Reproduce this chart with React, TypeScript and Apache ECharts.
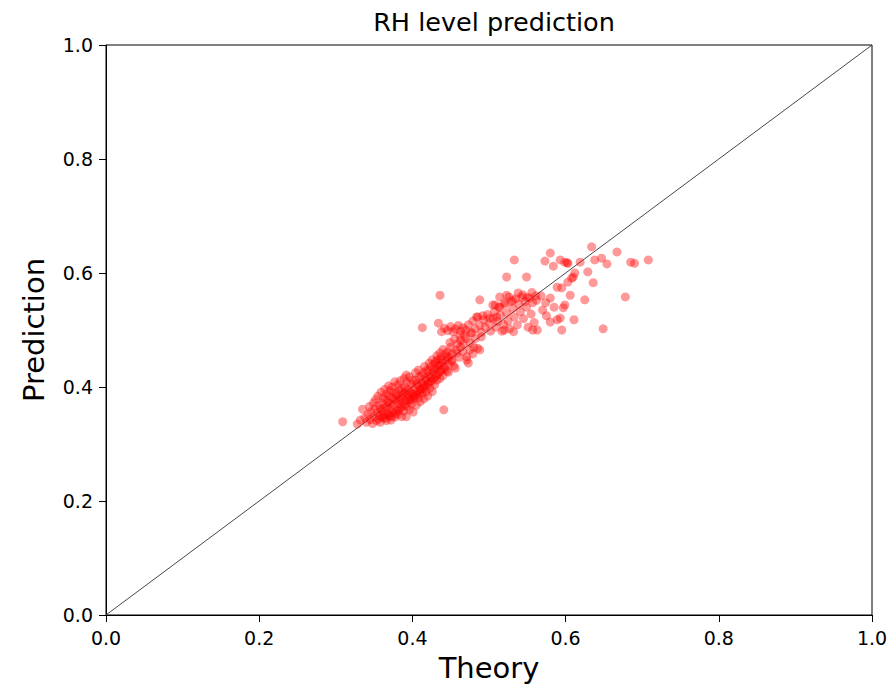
import React, { useEffect, useRef } from "react";
import * as echarts from "echarts";

// Theory vs. predicted RH level, [theory, prediction]
const lowCluster: [number, number][] = [
  [0.309, 0.339], [0.328, 0.335], [0.332, 0.342], [0.335, 0.361], [0.338, 0.346], [0.340, 0.338],
  [0.342, 0.352], [0.345, 0.343], [0.346, 0.357], [0.348, 0.336], [0.350, 0.348], [0.351, 0.362],
  [0.353, 0.341], [0.354, 0.355], [0.356, 0.368], [0.357, 0.349], [0.358, 0.338], [0.360, 0.358],
  [0.361, 0.372], [0.362, 0.346], [0.363, 0.363], [0.364, 0.352], [0.365, 0.378], [0.366, 0.341],
  [0.367, 0.366], [0.368, 0.356], [0.369, 0.385], [0.370, 0.349], [0.371, 0.371], [0.372, 0.342],
  [0.372, 0.362], [0.373, 0.381], [0.374, 0.355], [0.375, 0.368], [0.376, 0.391], [0.377, 0.347],
  [0.378, 0.376], [0.379, 0.360], [0.380, 0.385], [0.381, 0.352], [0.382, 0.370], [0.383, 0.395],
  [0.384, 0.362], [0.385, 0.381], [0.386, 0.348], [0.387, 0.372], [0.388, 0.389], [0.389, 0.358],
  [0.390, 0.400], [0.391, 0.377], [0.392, 0.421], [0.392, 0.348], [0.393, 0.366], [0.394, 0.386],
  [0.395, 0.395], [0.396, 0.360], [0.397, 0.378], [0.398, 0.405], [0.399, 0.370], [0.400, 0.388],
  [0.401, 0.356], [0.402, 0.398], [0.403, 0.380], [0.404, 0.412], [0.405, 0.368], [0.406, 0.392],
  [0.407, 0.403], [0.408, 0.381], [0.409, 0.418], [0.410, 0.374], [0.411, 0.396], [0.412, 0.408],
  [0.413, 0.388], [0.414, 0.425], [0.415, 0.379], [0.416, 0.400], [0.417, 0.415], [0.418, 0.392],
  [0.419, 0.430], [0.420, 0.384], [0.421, 0.406], [0.422, 0.420], [0.423, 0.398], [0.424, 0.435],
  [0.425, 0.410], [0.426, 0.392], [0.427, 0.425], [0.428, 0.440], [0.429, 0.404], [0.430, 0.418],
  [0.431, 0.432], [0.432, 0.412], [0.433, 0.447], [0.434, 0.424], [0.435, 0.438], [0.436, 0.415],
  [0.437, 0.452], [0.438, 0.430], [0.439, 0.443], [0.440, 0.420], [0.441, 0.360], [0.442, 0.436],
  [0.443, 0.458], [0.444, 0.447], [0.445, 0.428], [0.446, 0.462], [0.447, 0.440], [0.448, 0.453],
  [0.450, 0.470], [0.451, 0.445], [0.452, 0.458], [0.454, 0.437], [0.456, 0.433], [0.457, 0.465],
  [0.459, 0.476], [0.461, 0.452], [0.463, 0.482], [0.466, 0.462], [0.468, 0.490], [0.471, 0.453],
  [0.473, 0.442], [0.475, 0.478], [0.478, 0.495], [0.480, 0.470], [0.482, 0.485], [0.485, 0.468],
  [0.488, 0.465], [0.490, 0.488], [0.445, 0.453], [0.458, 0.460], [0.471, 0.447], [0.475, 0.465],
];

// the thick core of the cloud around 0.35–0.43
const denseCore: [number, number][] = [
  [0.344, 0.366], [0.349, 0.372], [0.352, 0.378], [0.355, 0.384], [0.358, 0.362], [0.359, 0.391],
  [0.362, 0.381], [0.364, 0.396], [0.366, 0.388], [0.368, 0.373], [0.369, 0.402], [0.371, 0.394],
  [0.374, 0.400], [0.376, 0.379], [0.377, 0.409], [0.379, 0.389], [0.381, 0.404], [0.383, 0.377],
  [0.384, 0.411], [0.386, 0.398], [0.387, 0.385], [0.389, 0.415], [0.391, 0.392], [0.393, 0.408],
  [0.395, 0.381], [0.396, 0.418], [0.398, 0.390], [0.400, 0.412], [0.402, 0.384], [0.404, 0.425],
  [0.406, 0.406], [0.408, 0.430], [0.410, 0.395], [0.412, 0.420], [0.414, 0.404], [0.416, 0.436],
  [0.418, 0.412], [0.420, 0.428], [0.422, 0.442], [0.424, 0.417], [0.426, 0.448], [0.428, 0.431],
  [0.430, 0.444], [0.432, 0.455], [0.434, 0.438], [0.436, 0.460], [0.438, 0.448], [0.440, 0.466],
  [0.356, 0.344], [0.361, 0.349], [0.365, 0.345], [0.369, 0.352], [0.373, 0.348], [0.378, 0.354],
  [0.382, 0.358], [0.386, 0.365], [0.390, 0.369], [0.394, 0.374], [0.398, 0.378], [0.402, 0.383],
  [0.406, 0.387], [0.410, 0.390], [0.414, 0.397], [0.418, 0.402], [0.422, 0.409], [0.427, 0.414],
  [0.432, 0.421], [0.437, 0.427], [0.442, 0.432], [0.447, 0.426], [0.452, 0.447], [0.463, 0.470],
  [0.455, 0.484], [0.462, 0.491], [0.470, 0.485], [0.449, 0.478], [0.466, 0.476], [0.479, 0.458],
];

const midBand: [number, number][] = [
  [0.413, 0.504], [0.434, 0.512], [0.436, 0.561], [0.438, 0.497], [0.442, 0.503], [0.446, 0.499],
  [0.450, 0.506], [0.453, 0.497], [0.456, 0.502], [0.460, 0.508], [0.463, 0.498], [0.466, 0.504],
  [0.470, 0.500], [0.473, 0.509], [0.476, 0.495], [0.479, 0.516], [0.482, 0.502], [0.485, 0.523],
  [0.488, 0.508], [0.490, 0.496], [0.493, 0.518], [0.495, 0.505], [0.498, 0.527], [0.500, 0.512],
  [0.502, 0.498], [0.505, 0.520], [0.507, 0.532], [0.509, 0.505], [0.511, 0.515], [0.513, 0.540],
  [0.515, 0.526], [0.517, 0.498], [0.519, 0.510], [0.521, 0.545], [0.523, 0.530], [0.525, 0.516],
  [0.527, 0.502], [0.529, 0.550], [0.531, 0.538], [0.533, 0.523], [0.535, 0.555], [0.537, 0.509],
  [0.539, 0.545], [0.541, 0.532], [0.543, 0.558], [0.545, 0.520], [0.547, 0.550], [0.549, 0.540],
  [0.551, 0.505], [0.553, 0.556], [0.555, 0.528], [0.557, 0.548], [0.559, 0.513], [0.561, 0.560],
  [0.563, 0.500], [0.488, 0.553], [0.484, 0.523], [0.492, 0.525], [0.501, 0.521], [0.508, 0.544],
  [0.514, 0.558], [0.523, 0.561], [0.505, 0.544], [0.514, 0.540], [0.510, 0.523], [0.520, 0.548],
  [0.526, 0.558], [0.531, 0.552], [0.538, 0.565], [0.544, 0.562], [0.550, 0.557], [0.556, 0.566],
  [0.562, 0.552], [0.568, 0.560], [0.574, 0.548], [0.580, 0.556], [0.589, 0.575], [0.595, 0.574],
  [0.585, 0.540], [0.570, 0.535], [0.575, 0.525], [0.580, 0.514], [0.589, 0.518], [0.593, 0.521],
  [0.611, 0.518], [0.595, 0.500], [0.557, 0.500], [0.532, 0.497], [0.520, 0.500], [0.599, 0.544],
  [0.597, 0.539], [0.606, 0.561], [0.625, 0.553],
];

const upperCluster: [number, number][] = [
  [0.634, 0.646], [0.580, 0.635], [0.667, 0.637], [0.708, 0.623], [0.685, 0.619], [0.690, 0.617],
  [0.533, 0.623], [0.573, 0.621], [0.584, 0.612], [0.599, 0.619], [0.603, 0.617], [0.619, 0.619],
  [0.638, 0.623], [0.647, 0.626], [0.654, 0.616], [0.523, 0.593], [0.549, 0.593], [0.612, 0.600],
  [0.608, 0.591], [0.603, 0.584], [0.629, 0.602], [0.636, 0.583], [0.678, 0.558], [0.649, 0.502],
  [0.593, 0.623], [0.602, 0.618], [0.610, 0.593],
];

const tickValues = [0, 0.2, 0.4, 0.6, 0.8, 1.0];
const diagonal: [number, number][] = [[0, 0], [1, 1]];

const FONT = "DejaVu Sans";

export default function App() {
  const ref = useRef<HTMLDivElement>(null);

  useEffect(() => {
    if (!ref.current) return;
    const chart = echarts.init(ref.current, undefined, { renderer: "svg" });
    const points = [...lowCluster, ...denseCore, ...midBand, ...upperCluster];

    const axisCommon = {
      type: "value" as const,
      min: tickValues[0],
      max: tickValues[tickValues.length - 1],
      interval: 0.2,
      splitLine: { show: false },
      axisLine: { show: true, onZero: false, lineStyle: { color: "#000", width: 1 } },
      axisTick: { show: true, inside: false, length: 7, lineStyle: { color: "#000", width: 1 } },
      axisLabel: {
        color: "#000",
        fontFamily: FONT,
        fontSize: 19,
        formatter: (v: number) => v.toFixed(1),
      },
      nameLocation: "middle" as const,
      nameTextStyle: { color: "#000", fontFamily: FONT, fontSize: 29 },
    };

    chart.setOption({
      animation: false,
      backgroundColor: "#fff",
      title: {
        text: "RH level prediction",
        left: 489,
        textAlign: "center",
        top: 4,
        textStyle: { color: "#000", fontFamily: FONT, fontSize: 25.5, fontWeight: "normal" },
      },
      grid: {
        left: 106,
        right: 24,
        top: 45,
        bottom: 74,
        containLabel: false,
        outerBoundsMode: "none",
        show: true,
        borderColor: "#000",
        borderWidth: 1,
        backgroundColor: "transparent",
      },
      xAxis: {
        ...axisCommon,
        name: "Theory",
        nameGap: 38,
        axisLabel: { ...axisCommon.axisLabel, margin: 13 },
      },
      yAxis: {
        ...axisCommon,
        name: "Prediction",
        nameGap: 58,
        axisLabel: { ...axisCommon.axisLabel, margin: 13 },
      },
      series: [
        {
          type: "line",
          data: diagonal,
          symbol: "none",
          silent: true,
          lineStyle: { color: "#333", width: 0.9 },
          z: 1,
        },
        {
          type: "scatter",
          data: points,
          symbolSize: 9,
          itemStyle: { color: "rgba(255,0,0,0.5)", borderWidth: 0 },
          z: 2,
        },
      ],
    });

    return () => chart.dispose();
  }, []);

  return (
    <div
      ref={ref}
      style={{ position: "fixed", left: 0, top: 0, width: 896, height: 689 }}
    />
  );
}
